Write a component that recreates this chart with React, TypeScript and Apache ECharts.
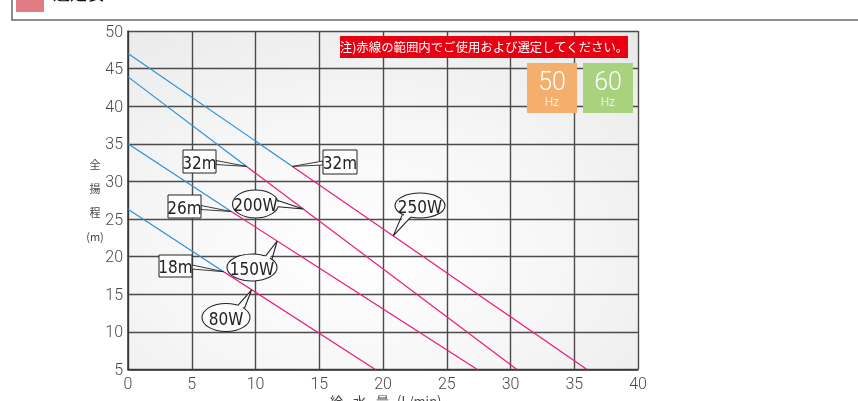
import React, { useEffect, useRef } from "react";
import * as echarts from "echarts";

// axis ticks
const xTicks = [0, 5, 10, 15, 20, 25, 30, 35, 40];
const yTicks = [5, 10, 15, 20, 25, 30, 35, 40, 45, 50];

// pump curves: blue part (outside recommended range) and red part (recommended)
const w250Blue = [[0, 47], [12.9, 32]];
const w250Red = [[12.9, 32], [36, 5]];
const w200Blue = [[0, 43.9], [9.3, 32]];
const w200Red = [[9.3, 32], [30.5, 5]];
const w150Blue = [[0, 35], [8.1, 26]];
const w150Red = [[8.1, 26], [27.4, 5]];
const w80Blue = [[0, 26.3], [7.5, 18]];
const w80Red = [[7.5, 18], [19.4, 5]];

// labels
const wattLabels = ["250W", "200W", "150W", "80W"];
const headLabels = ["32m", "32m", "26m", "18m"];
const wattTipX = [20.8, 13.75, 11.7, 9.7];

const BLUE = "#2b8fd6";
const RED = "#e8197f";
const INK = "#222";
const LABEL_FONT = "'Liberation Sans Narrow', 'DejaVu Sans Condensed', Roboto, sans-serif";

function yOn(seg: number[][], x: number) {
  const [a, b] = seg;
  return a[1] + ((x - a[0]) * (b[1] - a[1])) / (b[0] - a[0]);
}

export default function App() {
  const ref = useRef<HTMLDivElement>(null);
  useEffect(() => {
    const chart = echarts.init(ref.current!, null, { renderer: "svg" });
    const line = (data: number[][], color: string) => ({
      type: "line",
      data,
      showSymbol: false,
      symbol: "none",
      lineStyle: { color, width: 1.2 },
      silent: true,
      z: 3,
    });
    chart.setOption({
      animation: false,
      grid: {
        left: 128,
        top: 31,
        width: 510,
        height: 338.5,
        show: true,
        borderWidth: 0,
        backgroundColor: {
          type: "radial",
          x: 0.45,
          y: 0.65,
          r: 0.9,
          colorStops: [
            { offset: 0, color: "#ffffff" },
            { offset: 0.45, color: "#f6f6f6" },
            { offset: 1, color: "#e6e7e7" },
          ],
        },
      },
      xAxis: {
        type: "value",
        min: xTicks[0],
        max: xTicks[xTicks.length - 1],
        interval: 5,
        axisLine: { show: true, lineStyle: { color: "#333", width: 1.5 } },
        axisTick: { show: false },
        splitLine: { show: true, lineStyle: { color: "#4e4a4a", width: 1.4 } },
        axisLabel: {
          color: "#4a4a4a",
          fontSize: 16,
          fontFamily: "Roboto, sans-serif",
          fontWeight: 300,
          margin: 6,
        },
      },
      yAxis: {
        type: "value",
        min: yTicks[0],
        max: yTicks[yTicks.length - 1],
        interval: 5,
        axisLine: { show: true, lineStyle: { color: "#333", width: 1.5 } },
        axisTick: { show: false },
        splitLine: { show: true, lineStyle: { color: "#4e4a4a", width: 1.4 } },
        axisLabel: {
          color: "#4a4a4a",
          fontSize: 16,
          fontFamily: "Roboto, sans-serif",
          fontWeight: 300,
          margin: 5,
        },
      },
      series: [
        line(w250Blue, BLUE),
        line(w250Red, RED),
        line(w200Blue, BLUE),
        line(w200Red, RED),
        line(w150Blue, BLUE),
        line(w150Red, RED),
        line(w80Blue, BLUE),
        line(w80Red, RED),
      ],
    });

    const px = (p: number[]) => chart.convertToPixel({ gridIndex: 0 }, p) as number[];
    const g: any[] = [];
    const center = { align: "center", verticalAlign: "middle", textAlign: "center", textVerticalAlign: "middle" };

    // header band (cut off at top)
    g.push({ type: "rect", shape: { x: 12, y: -20, width: 900, height: 40 }, style: { fill: "none", stroke: "#6a6868", lineWidth: 1.5 }, z: 10 });
    g.push({ type: "rect", shape: { x: 16, y: -10, width: 28, height: 22 }, style: { fill: "#e07c84" }, z: 10 });
    g.push({ type: "text", x: 53, y: 1, style: { text: "選定表", fontSize: 17, fill: "#111", fontFamily: "'Noto Sans CJK JP'", align: "left", verticalAlign: "bottom", textAlign: "left", textVerticalAlign: "bottom" }, z: 10 });

    // y axis title
    const yTitle = ["全", "揚", "程", "(m)"];
    const yTitleY = [164, 188, 212, 236];
    yTitle.forEach((t, i) =>
      g.push({ type: "text", x: 95, y: yTitleY[i], style: { text: t, fontSize: 11, fill: "#444", fontFamily: "'Noto Sans CJK JP'", ...center }, z: 10 })
    );
    // x axis title
    const xTitle = ["給", "水", "量", "(L/min)"];
    const xTitleX = [330, 353, 376, 397];
    xTitle.forEach((t, i) =>
      g.push({ type: "text", x: xTitleX[i], y: 393.5, style: { text: t, fontSize: 13, fill: "#444", fontFamily: "'Noto Sans CJK JP'", align: "left", verticalAlign: "top", textAlign: "left", textVerticalAlign: "top" }, z: 10 })
    );

    // red notice
    g.push({ type: "rect", shape: { x: 340, y: 36, width: 288, height: 22 }, style: { fill: "#e60012" }, z: 10 });
    g.push({ type: "text", x: 484, y: 47, style: { text: "注)赤線の範囲内でご使用および選定してください。", fontSize: 12.4, fill: "#fff", fontFamily: "'Noto Sans CJK JP'", ...center }, z: 11 });

    // Hz boxes
    const hz = [
      { x: 527, color: "#f5af6c", t: "50" },
      { x: 583, color: "#a9d27f", t: "60" },
    ];
    hz.forEach((h) => {
      g.push({ type: "rect", shape: { x: h.x, y: 63, width: 50, height: 50 }, style: { fill: h.color }, z: 10 });
      g.push({ type: "text", x: h.x + 25, y: 81, style: { text: h.t, fontSize: 25, lineHeight: 25, fill: "#fff", fontFamily: "Roboto, sans-serif", fontWeight: 300, ...center }, z: 11 });
      g.push({ type: "text", x: h.x + 25, y: 102, style: { text: "Hz", fontSize: 12, lineHeight: 12, fill: "#fff", fontFamily: "Roboto, sans-serif", fontWeight: 300, ...center }, z: 11 });
    });

    // head labels (boxes with wedge leaders to transition points)
    const transitions = [w250Red[0], w200Red[0], w150Red[0], w80Red[0]];
    const boxes = [
      { x: 323, y: 150, w: 34, h: 24, side: "left" },
      { x: 183, y: 150, w: 33, h: 23, side: "right" },
      { x: 168, y: 195, w: 33, h: 23, side: "right" },
      { x: 159, y: 255, w: 33, h: 22, side: "right" },
    ];
    boxes.forEach((b, i) => {
      const tip = px(transitions[i]);
      const ex = b.side === "right" ? b.x + b.w : b.x;
      const cy = b.y + b.h / 2 + 1;
      g.push({ type: "polygon", shape: { points: [[ex, cy - 2], tip, [ex, cy + 2]] }, style: { fill: "#fff", stroke: INK, lineWidth: 0.9 }, z: 12 });
      g.push({ type: "rect", shape: { x: b.x, y: b.y, width: b.w, height: b.h }, style: { fill: "#fff", stroke: INK, lineWidth: 1 }, z: 13 });
      g.push({ type: "text", x: b.x + b.w / 2, y: b.y + b.h / 2 + 1, style: { text: headLabels[i], fontSize: 17, fill: INK, fontFamily: LABEL_FONT, ...center }, z: 14 });
    });

    // watt callouts (speech bubbles)
    const redSegs = [w250Red, w200Red, w150Red, w80Red];
    const bubbles = [
      { cx: 420, cy: 205.5, rx: 25, ry: 12.5, a1: 1.95, a2: 2.35 },
      { cx: 255.5, cy: 204, rx: 23, ry: 14, a1: -0.25, a2: 0.2 },
      { cx: 252, cy: 267.5, rx: 25, ry: 13.5, a1: -1.0, a2: -0.65 },
      { cx: 226, cy: 317.5, rx: 24, ry: 14, a1: -1.05, a2: -0.7 },
    ];
    bubbles.forEach((b, i) => {
      const tx = wattTipX[i];
      const tip = px([tx, yOn(redSegs[i], tx)]);
      const pt = (a: number, s: number) => [b.cx + b.rx * s * Math.cos(a), b.cy + b.ry * s * Math.sin(a)];
      g.push({ type: "ellipse", shape: { cx: b.cx, cy: b.cy, rx: b.rx, ry: b.ry }, style: { fill: "#fcfcfc", stroke: INK, lineWidth: 1.1 }, z: 12 });
      g.push({ type: "polygon", shape: { points: [pt(b.a1, 0.85), tip, pt(b.a2, 0.85)] }, style: { fill: "#fcfcfc" }, z: 13 });
      g.push({ type: "polyline", shape: { points: [pt(b.a1, 1), tip, pt(b.a2, 1)] }, style: { fill: "none", stroke: INK, lineWidth: 1.1 }, z: 13 });
      g.push({ type: "text", x: b.cx, y: b.cy + 1, style: { text: wattLabels[i], fontSize: 17, fill: INK, fontFamily: LABEL_FONT, ...center }, z: 14 });
    });

    chart.setOption({ graphic: g });
    return () => chart.dispose();
  }, []);
  return <div ref={ref} style={{ position: "fixed", left: 0, top: 0, width: 858, height: 401 }} />;
}
